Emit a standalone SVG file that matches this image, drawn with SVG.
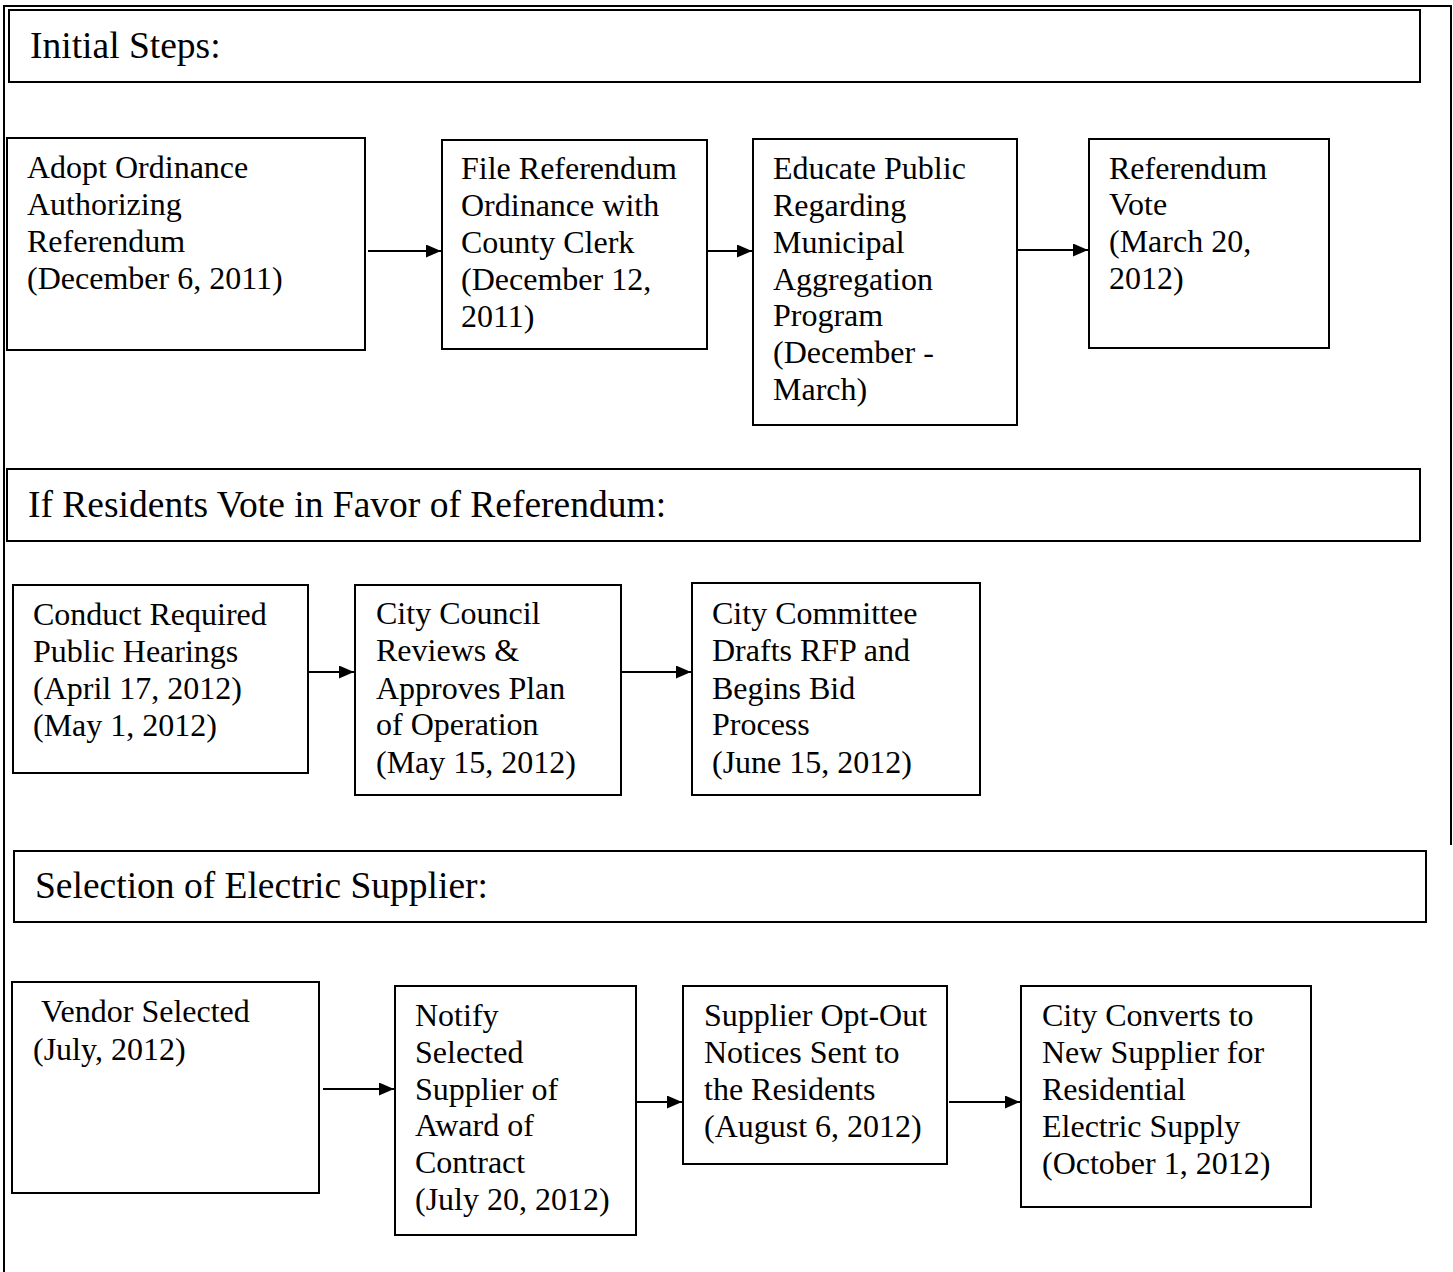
<svg xmlns="http://www.w3.org/2000/svg" width="1453" height="1272" viewBox="0 0 1453 1272">
<defs>
<marker id="ah" viewBox="0 0 15 13" refX="15" refY="6.5" markerWidth="15" markerHeight="13" markerUnits="userSpaceOnUse" orient="auto">
<path d="M0,0 L15,6.5 L0,13 Z" fill="#000"/>
</marker>
<style>
.box{fill:#fff;stroke:#000;stroke-width:2}
.hdr{fill:#fff;stroke:#000;stroke-width:2}
.frame{fill:none;stroke:#000;stroke-width:2}
text{font-family:"Liberation Serif","Times New Roman",serif;fill:#000}
.t{font-size:32px}
.h{font-size:37.5px}
.conn line{stroke:#000;stroke-width:2;marker-end:url(#ah)}
</style>
</defs>
<rect width="1453" height="1272" fill="#fff"/>
<g id="frame">
<path class="frame" d="M4,1272 L4,6 L1451,6 L1451,845"/>
</g>
<g id="header1"><rect class="hdr" x="9" y="10" width="1411" height="72"/><text class="h" x="30" y="58">Initial Steps:</text></g>
<g id="nodeA"><rect class="box" x="7" y="138" width="358" height="212"/>
<text class="t"><tspan x="27" y="178">Adopt Ordinance</tspan><tspan x="27" y="215">Authorizing</tspan><tspan x="27" y="252">Referendum</tspan><tspan x="27" y="289">(December 6, 2011)</tspan></text></g>
<g id="nodeB"><rect class="box" x="442" y="140" width="265" height="209"/>
<text class="t"><tspan x="461" y="179">File Referendum</tspan><tspan x="461" y="216">Ordinance with</tspan><tspan x="461" y="253">County Clerk</tspan><tspan x="461" y="290">(December 12,</tspan><tspan x="461" y="327">2011)</tspan></text></g>
<g id="nodeC"><rect class="box" x="753" y="139" width="264" height="286"/>
<text class="t"><tspan x="773" y="179">Educate Public</tspan><tspan x="773" y="216">Regarding</tspan><tspan x="773" y="253">Municipal</tspan><tspan x="773" y="290">Aggregation</tspan><tspan x="773" y="326">Program</tspan><tspan x="773" y="363">(December -</tspan><tspan x="773" y="400">March)</tspan></text></g>
<g id="nodeD"><rect class="box" x="1089" y="139" width="240" height="209"/>
<text class="t"><tspan x="1109" y="179">Referendum</tspan><tspan x="1109" y="215">Vote</tspan><tspan x="1109" y="252">(March 20,</tspan><tspan x="1109" y="289">2012)</tspan></text></g>
<g id="header2"><rect class="hdr" x="7" y="469" width="1413" height="72"/><text class="h" x="28" y="517">If Residents Vote in Favor of Referendum:</text></g>
<g id="nodeE"><rect class="box" x="13" y="585" width="295" height="188"/>
<text class="t"><tspan x="33" y="625">Conduct Required</tspan><tspan x="33" y="662">Public Hearings</tspan><tspan x="33" y="699">(April 17, 2012)</tspan><tspan x="33" y="736">(May 1, 2012)</tspan></text></g>
<g id="nodeF"><rect class="box" x="355" y="585" width="266" height="210"/>
<text class="t"><tspan x="376" y="624">City Council</tspan><tspan x="376" y="661">Reviews &amp;</tspan><tspan x="376" y="699">Approves Plan</tspan><tspan x="376" y="735">of Operation</tspan><tspan x="376" y="773">(May 15, 2012)</tspan></text></g>
<g id="nodeG"><rect class="box" x="692" y="583" width="288" height="212"/>
<text class="t"><tspan x="712" y="624">City Committee</tspan><tspan x="712" y="661">Drafts RFP and</tspan><tspan x="712" y="699">Begins Bid</tspan><tspan x="712" y="735">Process</tspan><tspan x="712" y="773">(June 15, 2012)</tspan></text></g>
<g id="header3"><rect class="hdr" x="14" y="851" width="1412" height="71"/><text class="h" x="35" y="898">Selection of Electric Supplier:</text></g>
<g id="nodeH"><rect class="box" x="12" y="982" width="307" height="211"/>
<text class="t"><tspan x="41" y="1022">Vendor Selected</tspan><tspan x="33" y="1060">(July, 2012)</tspan></text></g>
<g id="nodeI"><rect class="box" x="395" y="986" width="241" height="249"/>
<text class="t"><tspan x="415" y="1026">Notify</tspan><tspan x="415" y="1063">Selected</tspan><tspan x="415" y="1100">Supplier of</tspan><tspan x="415" y="1136">Award of</tspan><tspan x="415" y="1173">Contract</tspan><tspan x="415" y="1210">(July 20, 2012)</tspan></text></g>
<g id="nodeJ"><rect class="box" x="683" y="986" width="264" height="178"/>
<text class="t"><tspan x="704" y="1026">Supplier Opt-Out</tspan><tspan x="704" y="1063">Notices Sent to</tspan><tspan x="704" y="1100">the Residents</tspan><tspan x="704" y="1137">(August 6, 2012)</tspan></text></g>
<g id="nodeK"><rect class="box" x="1021" y="986" width="290" height="221"/>
<text class="t"><tspan x="1042" y="1026">City Converts to</tspan><tspan x="1042" y="1063">New Supplier for</tspan><tspan x="1042" y="1100">Residential</tspan><tspan x="1042" y="1137">Electric Supply</tspan><tspan x="1042" y="1174">(October 1, 2012)</tspan></text></g>
<g id="connectors" class="conn">
<line x1="368" y1="251" x2="441" y2="251"/>
<line x1="708" y1="251" x2="752" y2="251"/>
<line x1="1018" y1="250" x2="1088" y2="250"/>
<line x1="309" y1="672" x2="354" y2="672"/>
<line x1="622" y1="672" x2="691" y2="672"/>
<line x1="323" y1="1089" x2="394" y2="1089"/>
<line x1="637" y1="1102" x2="682" y2="1102"/>
<line x1="949" y1="1102" x2="1020" y2="1102"/>
</g>
</svg>
